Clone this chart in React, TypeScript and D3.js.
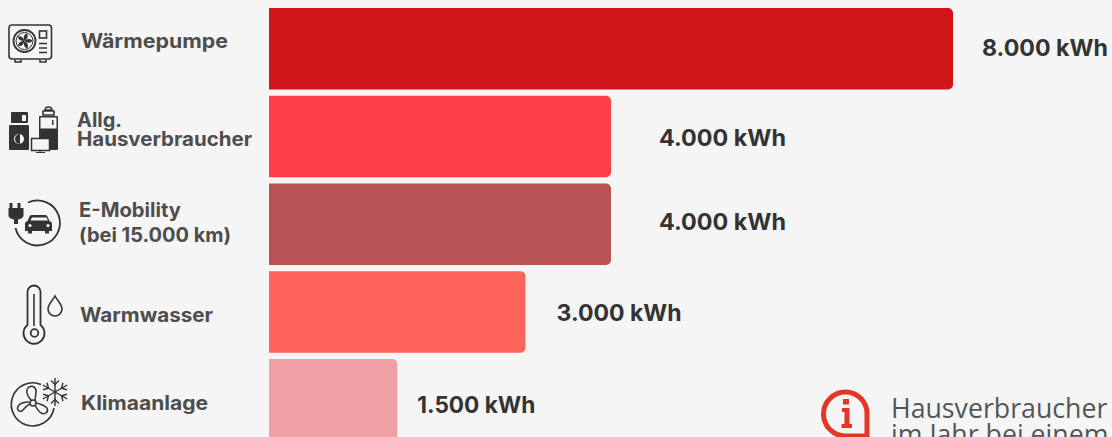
import React from "react";
import * as d3 from "d3";

const width = 1112, height = 437;

const categories = ["Wärmepumpe", "Allg. Hausverbraucher", "E-Mobility", "Warmwasser", "Klimaanlage"];
const values = [8000, 4000, 4000, 3000, 1500];
const valueLabels = ["8.000 kWh", "4.000 kWh", "4.000 kWh", "3.000 kWh", "1.500 kWh"];
const barColors = ["#d0151b", "#ff3f47", "#b95255", "#ff6359", "#efa1a5"];

// gap between bar end and value label, the source has no consistent spacing
const labelGaps = [29, 48, 48, 31, 20];
const labelShifts = [3, 5.5, 2, 5, 9.25];
const labelWidths = [126, 127, 127, 125, 118];

const nameLines = [
  [{ t: "Wärmepumpe", x: 81, y: 48, w: 147 }],
  [{ t: "Allg.", x: 77, y: 127, w: 45 }, { t: "Hausverbraucher", x: 77, y: 146, w: 175 }],
  [{ t: "E-Mobility", x: 79, y: 217, w: 102 }, { t: "(bei 15.000 km)", x: 79, y: 242, w: 152 }],
  [{ t: "Warmwasser", x: 80, y: 322, w: 133 }],
  [{ t: "Klimaanlage", x: 81, y: 410, w: 127 }],
];

const noteLines = ["Hausverbraucher", "im Jahr bei einem"];

const xScale = d3.scaleLinear().domain([0, 8000]).range([269, 953]);
const yScale = d3.scaleBand().domain(categories).range([8, 440.5]).paddingInner(0.0712).paddingOuter(0);

const barPath = (x0: number, x1: number, y0: number, h: number, r = 5) => {
  const p = d3.path();
  p.moveTo(x0, y0);
  p.lineTo(x1 - r, y0);
  p.arcTo(x1, y0, x1, y0 + r, r);
  p.lineTo(x1, y0 + h - r);
  p.arcTo(x1, y0 + h, x1 - r, y0 + h, r);
  p.lineTo(x0, y0 + h);
  p.closePath();
  return p.toString();
};

const ink = "#333";

const HeatPumpIcon = () => (
  <g fill="none" stroke={ink} strokeWidth={1.6}>
    <rect x={9} y={25} width={42.5} height={34} rx={3} />
    <circle cx={24.5} cy={41} r={11} strokeWidth={1.8} />
    <circle cx={24.5} cy={41} r={8.5} strokeWidth={1} />
    {[0, 72, 144, 216, 288].map((a) => (
      <path key={a} d="M24.5 41 C23 37 24 34 27 33.5 C28.5 36 27.5 39 24.5 41Z" fill={ink} stroke="none" transform={`rotate(${a} 24.5 41)`} />
    ))}
    <rect x={39.5} y={31} width={7} height={7} />
    <path d="M39 43.5h8M39 48h8M39 52.5h8" strokeWidth={1.5} />
    <path d="M15 59.5v2.5h6v-2.5M40 59.5v2.5h6v-2.5" />
  </g>
);

const HouseholdIcon = () => (
  <g>
    <rect x={11} y={112} width={17} height={11} rx={1} fill={ink} />
    <rect x={22} y={115} width={4} height={6} fill="#f5f5f5" />
    <rect x={9} y={125} width={20} height={25} rx={1} fill={ink} />
    <circle cx={19} cy={139} r={5} fill="#f5f5f5" />
    <path d="M19 134a5 5 0 0 0 0 10z" fill={ink} transform="translate(1 0)" />
    <rect x={39} y={116} width={19} height={34} rx={1} fill={ink} />
    <rect x={40.5} y={117.5} width={16} height={11} fill="#f5f5f5" />
    <rect x={52} y={120} width={1.5} height={5} fill={ink} />
    <path d="M43 115v-4h11v4zM45 110c0-4 7-4 7 0z" fill="none" stroke={ink} strokeWidth={1.6} />
    <rect x={31.5} y={138.5} width={18} height={12} fill="#f5f5f5" stroke={ink} strokeWidth={1.5} />
    <path d="M40 151v1.5M36 152.5h9" stroke={ink} strokeWidth={1.2} />
  </g>
);

const MobilityIcon = () => (
  <g>
    <path d="M28 202.5A22.5 22.5 0 1 1 15.5 228" fill="none" stroke={ink} strokeWidth={1.8} />
    <path d="M11 203v5M19 203v5" stroke={ink} strokeWidth={3} />
    <path d="M8.500 208h15v7c0 3-3 4-5.500 4.500v4.500h-4v-4.500c-2.500-.5-5.500-1.500-5.500-4.500z" fill={ink} />
    <path d="M25 231v-7c0-2 1-2.500 2.500-3l2-4.500c.5-1 1.500-1.500 3-1.500h12c1.500 0 2.500.5 3 1.500l2 4.500c1.500.5 2.500 1 2.500 3v7h-3v2.500h-4v-2.500h-13v2.500h-4v-2.500z" fill={ink} />
    <path d="M30.500 220.500l1.500-3h14.500l1.500 3z" fill="#f5f5f5" />
    <circle cx={30} cy={225.500} r={1.6} fill="#f5f5f5" />
    <circle cx={48} cy={225.500} r={1.6} fill="#f5f5f5" />
  </g>
);

const ThermoIcon = () => (
  <g fill="none" stroke={ink} strokeWidth={1.8}>
    <path d="M27.500 325V292a6.500 6.500 0 0 1 13 0v33a10.500 10.500 0 1 1 -13 0z" />
    <path d="M34 294v32" strokeWidth={1.6} />
    <circle cx={34.500} cy={333} r={3.800} />
    <path d="M55 296c-2 4-7 8-7 13a7 7 0 0 0 14 0c0-5-5-9-7-13z" strokeWidth={1.6} />
  </g>
);

const KlimaIcon = () => (
  <g fill="none" stroke={ink} strokeWidth={1.5}>
    <path d="M41 384.500A21.500 21.500 0 1 0 54 408" strokeWidth={1.6} />
    <circle cx={33} cy={403} r={3} />
    <path d="M31 400c-4-4-6-10-2-13 4-2 8 1 7 6l-1 7" />
    <path d="M36 403c5 1 9 3 11 5 2 4-2 7-6 5-3-2-5-6-6-8" />
    <path d="M30 404c-3 1-6 5-8 7-4 1-6-2-3-6 3-3 6-3 10-3" />
    <g strokeWidth={1.4}>
      {[0, 60, 120].map((a) => (
        <g key={a} transform={`rotate(${a} 55 392)`}>
          <path d="M55 378v28" />
          <path d="M51 380.500l4 4 4-4M51 403.500l4-4 4 4" />
        </g>
      ))}
    </g>
  </g>
);

const InfoIcon = () => (
  <g>
    <path d="M845.500 392a21.500 21.500 0 0 1 21.500 21.500V436H845.500a21.500 21.500 0 0 1 0-44z" fill="none" stroke="#e53524" strokeWidth={5} />
    <rect x={843} y={399} width={6} height={5.500} fill="#e53524" />
    <path d="M842 408h7.500v16h2.500v4h-10.500v-4h3v-12h-2.500z" fill="#e53524" />
  </g>
);

const icons = [HeatPumpIcon, HouseholdIcon, MobilityIcon, ThermoIcon, KlimaIcon];

export default function App() {
  return (
    <svg width={width} height={height} style={{ position: "absolute", left: 0, top: 0, background: "#f5f5f5" }}>
      {categories.map((c, i) => (
        <path key={c} d={barPath(xScale(0), xScale(values[i]), yScale(c)!, yScale.bandwidth())} fill={barColors[i]} />
      ))}

      {categories.map((c, i) => (
        <text
          key={c}
          x={xScale(values[i]) + labelGaps[i]}
          y={yScale(c)! + yScale.bandwidth() / 2 + labelShifts[i] + 4}
          fontFamily="Inter, sans-serif"
          fontWeight={700}
          fontSize={23}
          fill={ink}
          textLength={labelWidths[i]}
          lengthAdjust="spacingAndGlyphs"
        >
          {valueLabels[i]}
        </text>
      ))}

      {nameLines.flat().map((l) => (
        <text
          key={l.t}
          x={l.x}
          y={l.y}
          fontFamily="Inter, sans-serif"
          fontWeight={700}
          fontSize={19.5}
          fill="#4d4d4d"
          textLength={l.w}
          lengthAdjust="spacingAndGlyphs"
        >
          {l.t}
        </text>
      ))}

      {icons.map((Icon, i) => <Icon key={i} />)}

      <InfoIcon />
      {noteLines.map((t, i) => (
        <text key={t} x={891} y={418 + i * 26} fontFamily="'Open Sans', sans-serif" fontSize={26.7} fill="#555">
          {t}
        </text>
      ))}
    </svg>
  );
}
